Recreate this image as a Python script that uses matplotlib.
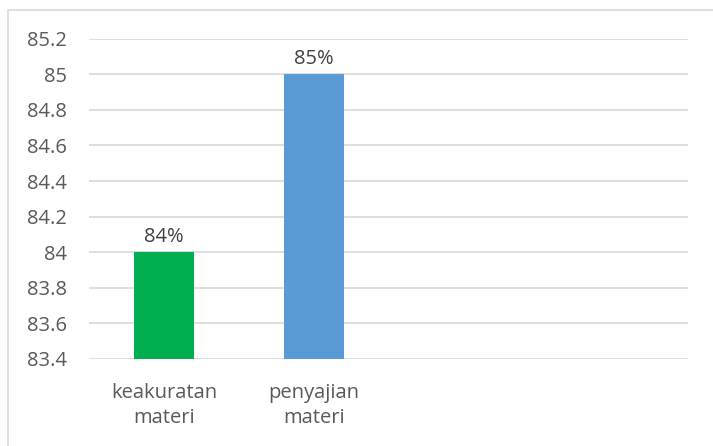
import matplotlib.pyplot as plt
from matplotlib.patches import Rectangle

# data
categories = ['keakuratan\nmateri', 'penyajian\nmateri', '', '']
values = [84, 85, None, None]
labels = ['84%', '85%']
bar_colors = ['#00B050', '#5B9BD5']
yticks = [83.4, 83.6, 83.8, 84.0, 84.2, 84.4, 84.6, 84.8, 85.0, 85.2]
ytick_labels = ['83.4', '83.6', '83.8', '84', '84.2', '84.4', '84.6', '84.8', '85', '85.2']

plt.rcParams['font.family'] = ['Open Sans', 'DejaVu Sans']
text_color = '#595959'
fs = 14.5

W, H = 713, 446
fig = plt.figure(figsize=(W / 100, H / 100), dpi=100)
ax = fig.add_axes([89 / W, 1 - 359 / H, (688 - 89) / W, (359 - 38.7) / H])

# chart border (extends past right and bottom edges)
fig.patches.append(Rectangle((7.5 / W, -0.1), 1.2, 1 - 9.5 / H + 0.1,
                             transform=fig.transFigure, fill=False,
                             edgecolor='#D9D9D9', linewidth=1.2))

x = list(range(len(categories)))
for i, v in enumerate(values):
    if v is None:
        continue
    ax.bar(x[i], v - 83.4, bottom=83.4, width=0.4, color=bar_colors[i], zorder=3)
    ax.text(x[i], v + 0.03, labels[i], ha='center', va='bottom',
            fontsize=fs, color='#404040')

ax.set_xlim(-0.5, len(categories) - 0.5)
ax.set_ylim(83.4, 85.2)
ax.set_yticks(yticks)
ax.set_yticklabels(ytick_labels, fontsize=fs, color=text_color)
ax.set_xticks(x)
ax.set_xticklabels(categories, fontsize=fs, color=text_color, linespacing=1.35)
ax.tick_params(axis='both', length=0)
ax.tick_params(axis='y', pad=16)
ax.tick_params(axis='x', pad=17)

ax.grid(axis='y', color='#D9D9D9', linewidth=1.2, zorder=0)
for s in ax.spines.values():
    s.set_visible(False)

plt.savefig('out.png', dpi=100)
